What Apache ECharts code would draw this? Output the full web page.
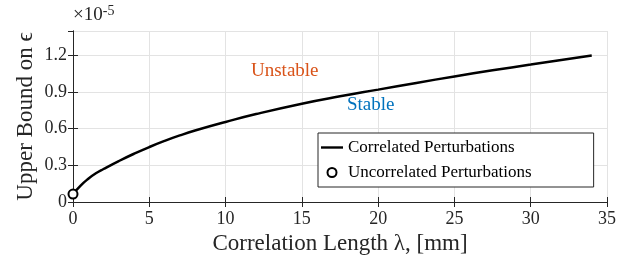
<!DOCTYPE html>
<html>
<head>
<meta charset="utf-8">
<script src="https://cdn.jsdelivr.net/npm/echarts@6/dist/echarts.min.js"></script>
<style>
  html, body { margin: 0; padding: 0; background: #fff; }
  #chart { width: 639px; height: 260px; }
</style>
</head>
<body>
<div id="chart"></div>
<script>
// correlation length lambda [mm]
var lambdaMm = [0, 0.5, 1, 1.5, 2, 3, 4, 5, 6, 7, 8, 10, 12, 15, 17.5, 20, 22.5, 25, 27.5, 30, 32, 34]
// upper bound on epsilon, in units of 1e-5
var boundCorrelated = [0.065, 0.135, 0.19, 0.235, 0.27, 0.335, 0.395, 0.45, 0.5, 0.545, 0.585, 0.655, 0.72, 0.805, 0.865, 0.92, 0.975, 1.028, 1.078, 1.125, 1.163, 1.2]
// uncorrelated case: single point at lambda = 0
var uncorrelatedPoint = [[0, 0.065]]
var xTicks = [0, 5, 10, 15, 20, 25, 30, 35]
var yTicks = [0, 0.3, 0.6, 0.9, 1.2]

var serif = '"Liberation Serif", "DejaVu Serif", serif'
var axisColor = '#262626'

var chart = echarts.init(document.getElementById('chart'))

var lineData = lambdaMm.map(function (x, i) { return [x, boundCorrelated[i]] })

chart.setOption({
  animation: false,
  grid: { left: 73, right: 32, top: 31, bottom: 58, outerBoundsMode: 'none' },
  xAxis: [
    {
      type: 'value',
      min: xTicks[0],
      max: xTicks[xTicks.length - 1],
      interval: 5,
      name: 'Correlation Length λ, [mm]',
      nameLocation: 'middle',
      nameGap: 30,
      nameTextStyle: { fontFamily: serif, fontSize: 23, color: axisColor },
      axisLine: { lineStyle: { color: axisColor, width: 1 } },
      axisTick: { inside: true, length: 5, lineStyle: { color: axisColor } },
      axisLabel: { fontFamily: serif, fontSize: 18, color: axisColor, margin: 8 },
      splitLine: { show: true, lineStyle: { color: '#e3e3e3', width: 1 } }
    },
    {
      type: 'value',
      position: 'top',
      min: 0, max: 35, interval: 5,
      axisLine: { show: true, lineStyle: { color: axisColor, width: 1 } },
      axisTick: { show: true, inside: true, length: 5, lineStyle: { color: axisColor } },
      axisLabel: { show: false },
      splitLine: { show: false }
    }
  ],
  yAxis: [
    {
      type: 'value',
      min: 0,
      max: 1.4,
      interval: 0.3,
      name: 'Upper Bound on ϵ',
      nameLocation: 'middle',
      nameGap: 36,
      nameMoveOverlap: false,
      nameTextStyle: { fontFamily: serif, fontSize: 23, color: axisColor },
      axisLine: { show: true, lineStyle: { color: axisColor, width: 1 } },
      axisTick: { show: true, inside: true, length: 5, lineStyle: { color: axisColor } },
      axisLabel: {
        fontFamily: serif, fontSize: 18, color: axisColor, margin: 6,
        showMaxLabel: false,
        formatter: function (v) {
          var t = yTicks.find(function (y) { return Math.abs(y - v) < 1e-6 })
          return t === undefined ? '' : String(t)
        }
      },
      splitLine: { show: true, lineStyle: { color: '#e3e3e3', width: 1 } }
    },
    {
      type: 'value',
      position: 'right',
      min: 0, max: 1.4, interval: 0.3,
      axisLine: { show: true, lineStyle: { color: axisColor, width: 1 } },
      axisTick: { show: true, inside: true, length: 5, lineStyle: { color: axisColor } },
      axisLabel: { show: false },
      splitLine: { show: false }
    }
  ],
  legend: {
    left: 318,
    top: 133,
    orient: 'vertical',
    backgroundColor: '#fff',
    borderColor: axisColor,
    borderWidth: 1,
    padding: [6, 62, 6, 3],
    itemGap: 8,
    itemWidth: 22,
    itemHeight: 9,
    textStyle: { fontFamily: serif, fontSize: 17, color: '#000' },
    data: [
      {
        name: 'Correlated Perturbations',
        icon: 'path://M0,0 L22,0 L22,2.4 L0,2.4 Z',
        itemStyle: { color: '#000' }
      },
      {
        name: 'Uncorrelated Perturbations',
        icon: 'circle',
        itemStyle: { color: '#fff', borderColor: '#000', borderWidth: 2 }
      }
    ]
  },
  graphic: [
    {
      type: 'text',
      left: 73,
      top: 4,
      z: 10,
      style: {
        text: '{b|×10}{sup|-5}',
        fill: axisColor,
        rich: {
          b: { fontSize: 19, fontFamily: serif, fill: axisColor },
          sup: { fontSize: 14, fontFamily: serif, fill: axisColor, verticalAlign: 'top', padding: [0, 0, 8, 0] }
        }
      }
    },
    {
      type: 'text',
      left: 251,
      top: 62,
      z: 10,
      style: { text: 'Unstable', fontSize: 19, fontFamily: serif, fill: '#D95319' }
    },
    {
      type: 'text',
      left: 347,
      top: 96,
      z: 10,
      style: { text: 'Stable', fontSize: 19, fontFamily: serif, fill: '#0072BD' }
    }
  ],
  series: [
    {
      name: 'Correlated Perturbations',
      type: 'line',
      data: lineData,
      smooth: true,
      symbol: 'none',
      lineStyle: { color: '#000', width: 2.5 },
      itemStyle: { color: '#000' },
      z: 3
    },
    {
      name: 'Uncorrelated Perturbations',
      type: 'scatter',
      data: uncorrelatedPoint,
      symbol: 'circle',
      symbolSize: 9,
      clip: false,
      itemStyle: { color: '#fff', borderColor: '#000', borderWidth: 2, opacity: 1 },
      z: 4
    }
  ]
})
</script>
</body>
</html>
